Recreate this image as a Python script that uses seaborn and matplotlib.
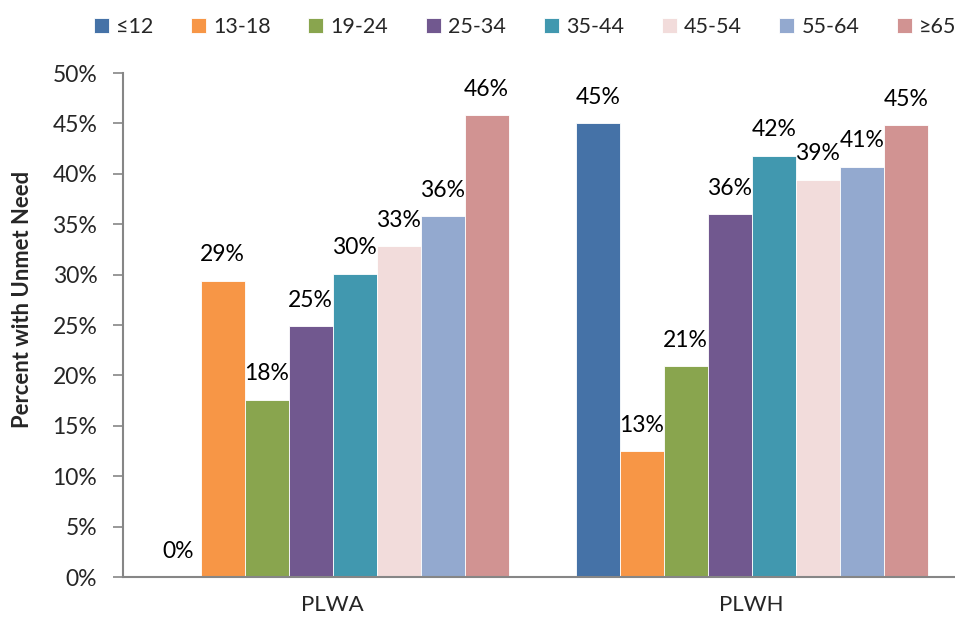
import matplotlib
matplotlib.use("Agg")
import matplotlib.pyplot as plt
import seaborn as sns
import pandas as pd

groups = ["PLWA", "PLWH"]
ages = ["≤12", "13-18", "19-24", "25-34", "35-44", "45-54", "55-64", "≥65"]
plwa = [0.0, 29.4, 17.6, 24.9, 30.1, 32.8, 35.8, 45.8]
plwh = [45.0, 12.5, 20.9, 36.0, 41.8, 39.4, 40.7, 44.8]
labels_plwa = ["0%", "29%", "18%", "25%", "30%", "33%", "36%", "46%"]
labels_plwh = ["45%", "13%", "21%", "36%", "42%", "39%", "41%", "45%"]
colors = ["#4572A7", "#F79646", "#89A54E", "#71588F", "#4198AF",
          "#F2DCDB", "#93A9CF", "#D19392"]

rows = []
for g, vals, labs in [("PLWA", plwa, labels_plwa), ("PLWH", plwh, labels_plwh)]:
    for a, v, l in zip(ages, vals, labs):
        rows.append({"group": g, "age": a, "value": v, "label": l})
df = pd.DataFrame(rows)

sns.set_style("white")
plt.rcParams["font.family"] = ["Lato", "DejaVu Sans"]

fig = plt.figure(figsize=(9.55, 6.2), dpi=100)
ax = fig.add_axes([123 / 955, 1 - 577 / 620, (955 - 123) / 955, (577 - 73) / 620])

sns.barplot(data=df, x="group", y="value", hue="age", order=groups,
            hue_order=ages, palette=colors, width=0.84, ax=ax,
            edgecolor="white", linewidth=0.6, saturation=1, errorbar=None)

# data labels
for cont, age in zip(ax.containers, ages):
    sub = df[df["age"] == age].set_index("group").loc[groups]
    for rect, lab in zip(cont, sub["label"]):
        x = rect.get_x() + rect.get_width() / 2
        y = rect.get_height()
        ax.annotate(lab, (x, y), xytext=(0, 14), textcoords="offset points",
                    ha="center", va="baseline", fontsize=16.5, color="#000000")

ax.set_ylim(0, 50)
ax.set_xlim(-0.5, 1.485)
ax.set_yticks(range(0, 51, 5))
ax.set_yticklabels([f"{v}%" for v in range(0, 51, 5)], fontsize=16.5)
ax.set_xticks([0, 1])
ax.set_xticklabels(groups, fontsize=16)
ax.tick_params(axis="x", length=0, pad=13)
ax.tick_params(axis="y", length=7.5, width=1.2, color="#868686", direction="out", pad=11, left=True)
ax.set_xlabel("")
ax.set_ylabel("Percent with Unmet Need", fontsize=15.8, fontweight="bold")
ax.yaxis.set_label_coords(-0.108, 0.55)

for s in ["top", "right"]:
    ax.spines[s].set_visible(False)
for s in ["left", "bottom"]:
    ax.spines[s].set_color("#868686")
    ax.spines[s].set_linewidth(1.5)

handles, labs = ax.get_legend_handles_labels()
ax.legend_.remove()
fig.legend(handles, labs, loc="center", bbox_to_anchor=(0.55, 0.956),
           ncol=8, frameon=False, fontsize=15.5,
           handlelength=0.7, handleheight=0.7, handletextpad=0.33, columnspacing=1.75)

fig.savefig("out.png", dpi=100)
